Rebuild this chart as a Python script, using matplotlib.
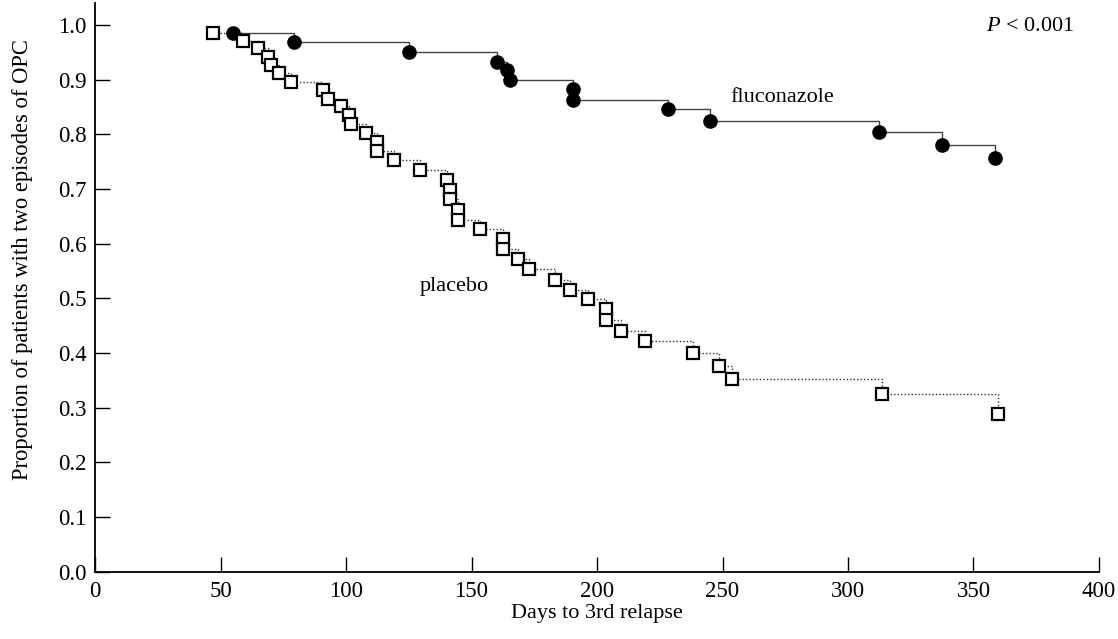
import matplotlib.pyplot as plt

# Kaplan-Meier estimates
fluco_days = [54.9, 79.1, 125.2, 160.2, 164.2, 165.4, 190.5, 190.5, 228.3,
              245.2, 312.2, 337.6, 358.5]
fluco_prop = [0.985, 0.969, 0.951, 0.933, 0.917, 0.899, 0.882, 0.863, 0.846,
              0.825, 0.805, 0.780, 0.756]

plac_days = [47.2, 59.1, 65.1, 69.1, 70.2, 73.1, 78.0, 91.0, 93.0, 98.1,
             101.3, 102.1, 108.1, 112.3, 112.3, 119.2, 129.3, 140.2, 141.5,
             141.5, 144.5, 144.5, 153.5, 162.6, 162.6, 168.7, 172.8, 183.4,
             189.4, 196.3, 203.6, 203.6, 209.6, 219.3, 238.4, 248.5, 253.6,
             313.7, 359.9]
plac_prop = [0.985, 0.970, 0.957, 0.941, 0.926, 0.912, 0.896, 0.881, 0.865,
             0.851, 0.835, 0.819, 0.802, 0.786, 0.770, 0.752, 0.734, 0.716,
             0.698, 0.681, 0.662, 0.644, 0.627, 0.609, 0.590, 0.571, 0.554,
             0.534, 0.516, 0.498, 0.481, 0.461, 0.441, 0.421, 0.400, 0.377,
             0.352, 0.325, 0.289]

xticks = [0, 50, 100, 150, 200, 250, 300, 350, 400]
yticks = [0.0, 0.1, 0.2, 0.3, 0.4, 0.5, 0.6, 0.7, 0.8, 0.9, 1.0]

plt.rcParams['font.family'] = ['Liberation Serif', 'DejaVu Serif']
plt.rcParams['mathtext.fontset'] = 'custom'
plt.rcParams['mathtext.it'] = 'Liberation Serif:italic'
plt.rcParams['mathtext.rm'] = 'Liberation Serif'

fig = plt.figure(figsize=(11.18, 6.39), dpi=100)
ax = fig.add_axes([0.085, 0.1053, 0.898, 0.89])

ax.plot(fluco_days, fluco_prop, drawstyle="steps-post", color="#444444",
        linewidth=1.0, zorder=2)
ax.plot(fluco_days, fluco_prop, "o", color="black", markersize=9.5, zorder=3)

ax.plot(plac_days, plac_prop, drawstyle="steps-post", color="#333333",
        linewidth=1.0, linestyle=(0, (1, 1.5)), zorder=2)
ax.plot(plac_days, plac_prop, "s", markerfacecolor="white",
        markeredgecolor="black", markeredgewidth=1.6, markersize=9, zorder=3)

ax.text(253, 0.868, "fluconazole", fontsize=16, va="center", ha="left")
ax.text(129.5, 0.521, "placebo", fontsize=16, va="center", ha="left")
ax.text(355, 0.997, "$P$ < 0.001", fontsize=16, va="center", ha="left")

ax.set_xlim(0, 400)
ax.set_ylim(0, 1.04)
ax.set_xticks(xticks)
ax.set_xticklabels([str(t) for t in xticks])
ax.set_yticks(yticks)
ax.set_yticklabels(["%.1f" % t for t in yticks])
ax.tick_params(direction="in", length=11, width=1.0, labelsize=16.5)
ax.tick_params(axis="y", pad=6)
ax.tick_params(axis="x", pad=7)
ax.spines["top"].set_visible(False)
ax.spines["right"].set_visible(False)
ax.spines["left"].set_linewidth(1.3)
ax.spines["bottom"].set_linewidth(1.3)

ax.set_xlabel("Days to 3rd relapse", fontsize=16)
ax.set_ylabel("Proportion of patients with two episodes of OPC", fontsize=16.3)
ax.xaxis.set_label_coords(0.5, -0.056)
ax.yaxis.set_label_coords(-0.0617, 0.548)

fig.savefig("out.png", dpi=100)
